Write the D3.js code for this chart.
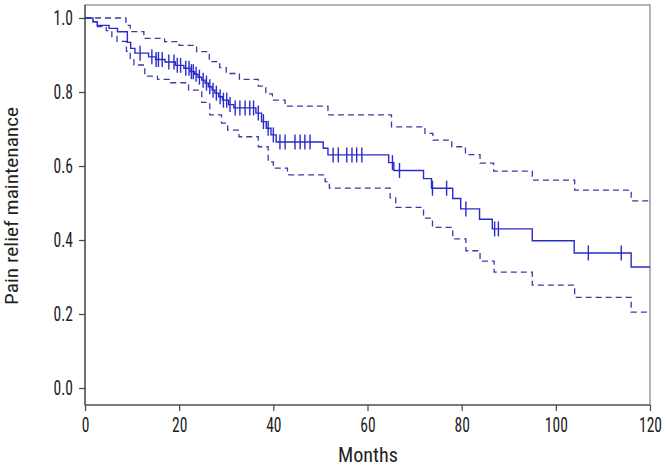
<!DOCTYPE html>
<html><head><meta charset="utf-8">
<script src="https://cdn.jsdelivr.net/npm/d3@7"></script>
<style>
html,body{margin:0;padding:0;background:#fff;}
text{font-family:'Roboto Condensed','Liberation Sans Narrow',Roboto,sans-serif;}
</style></head>
<body><svg id="c" width="667" height="468"></svg>
<script>
// Kaplan-Meier estimate: [time (months), survival after step]
const kmSteps = [[0,1.0],[1.7,0.99],[2.6,0.98],[5.1,0.972],[6.9,0.963],[9.0,0.934],[9.7,0.918],[10.6,0.905],
 [13.5,0.895],[15.0,0.888],[17.0,0.881],[19.2,0.872],[21.0,0.864],[22.3,0.855],[23.3,0.848],[24.0,0.840],
 [24.8,0.832],[25.5,0.824],[26.2,0.814],[27.0,0.805],[27.6,0.797],[28.4,0.787],[29.2,0.778],[30.5,0.766],
 [31.6,0.757],[36.3,0.743],[37.5,0.720],[38.5,0.702],[39.5,0.684],[40.6,0.665],[50.6,0.648],[51.6,0.630],
 [64.5,0.609],[65.6,0.588],[71.9,0.566],[73.6,0.540],[78.1,0.512],[79.8,0.484],[83.8,0.456],[86.5,0.430],
 [95.0,0.398],[103.9,0.365],[116.0,0.327]];
// Upper confidence limit
const upperSteps = [[0,1.0],[8.7,0.98],[9.6,0.963],[12.5,0.945],[16.9,0.936],[20.0,0.926],[23.7,0.909],
 [26.4,0.882],[28.6,0.866],[30.0,0.85],[32.8,0.834],[36.8,0.816],[38.4,0.795],[39.8,0.778],[42.5,0.762],
 [51.6,0.738],[65.1,0.706],[72.2,0.688],[73.9,0.67],[77.9,0.652],[80.8,0.631],[83.9,0.608],[86.8,0.586],
 [95.0,0.562],[104.0,0.535],[116.0,0.506]];
// Lower confidence limit
const lowerSteps = [[0,1.0],[1.7,0.99],[2.6,0.977],[4.5,0.966],[5.7,0.95],[6.8,0.937],[8.8,0.91],[9.6,0.89],
 [10.4,0.873],[12.7,0.843],[15.4,0.834],[17.9,0.825],[22.0,0.805],[24.8,0.772],[26.5,0.738],[29.0,0.716],
 [30.3,0.697],[32.7,0.679],[36.8,0.652],[38.9,0.611],[40.0,0.594],[43.0,0.576],[51.0,0.558],[51.9,0.54],
 [64.8,0.514],[66.0,0.488],[71.9,0.459],[73.8,0.434],[78.1,0.403],[80.9,0.371],[83.9,0.343],[86.9,0.313],
 [95.0,0.278],[104.0,0.245],[116.0,0.205]];
// Censored observations (months)
const censorTimes = [11.7,14.2,15.1,15.6,16.4,17.8,18.9,19.6,20.3,21.4,22.1,22.6,23.0,23.6,24.3,25.1,25.8,
 26.5,27.2,27.9,28.7,29.4,30.1,30.8,31.9,32.9,34.0,35.0,35.8,36.8,37.9,38.9,40.0,41.4,42.5,44.6,45.7,46.7,
 47.8,52.7,53.8,55.6,56.7,57.7,58.8,65.3,66.8,73.8,76.8,80.9,87.0,87.8,106.9,113.9];
const xTicks = [0,20,40,60,80,100,120];
const yTicks = [0.0,0.2,0.4,0.6,0.8,1.0];
const tEnd = 120;

const svg = d3.select('#c');
const x = d3.scaleLinear().domain([0,120]).range([85,650]);
const y = d3.scaleLinear().domain([0,1]).range([388,18]);
const plotTop = 5, plotBottom = 405;
const sx = 0.74; // horizontal condensing of the condensed typeface

// frame
svg.append('rect').attr('x',85).attr('y',plotTop).attr('width',565).attr('height',plotBottom-plotTop)
  .attr('fill','none').attr('stroke','#808080').attr('stroke-width',1.2);

const line = d3.line().x(d=>x(d[0])).y(d=>y(d[1])).curve(d3.curveStepAfter);
const ext = a => a.concat([[tEnd, a[a.length-1][1]]]);

svg.append('path').datum(ext(upperSteps)).attr('d',line).attr('fill','none')
  .attr('stroke','#3a3aa6').attr('stroke-width',1.3).attr('stroke-dasharray','6,4');
svg.append('path').datum(ext(lowerSteps)).attr('d',line).attr('fill','none')
  .attr('stroke','#3a3aa6').attr('stroke-width',1.3).attr('stroke-dasharray','6,4');
svg.append('path').datum(ext(kmSteps)).attr('d',line).attr('fill','none')
  .attr('stroke','#2a2acc').attr('stroke-width',1.4);

function kmAt(t){ let s=1; for(const d of kmSteps){ if(d[0]<=t) s=d[1]; } return s; }
svg.append('g').selectAll('line').data(censorTimes).join('line')
  .attr('x1',d=>x(d)).attr('x2',d=>x(d))
  .attr('y1',d=>y(kmAt(d))-7.5).attr('y2',d=>y(kmAt(d))+7.5)
  .attr('stroke','#2a2acc').attr('stroke-width',1.4);

// axes
const xAxis = d3.axisBottom(x).tickValues(xTicks).tickFormat(d3.format('d')).tickSizeOuter(0).tickSize(6).tickPadding(6);
const gx = svg.append('g').attr('transform',`translate(0,${plotBottom})`).call(xAxis);
const yAxis = d3.axisLeft(y).tickValues(yTicks).tickFormat(d3.format('.1f')).tickSizeOuter(0).tickSize(6).tickPadding(6);
const gy = svg.append('g').attr('transform','translate(85,0)').call(yAxis);
gy.select('.domain').attr('d',`M0,${plotTop}V${plotBottom}`);
gx.select('.domain').attr('d',`M85,0H650`);
[gx,gy].forEach(g=>{
  g.selectAll('.domain').attr('stroke','#444').attr('stroke-width',1.2);
  g.selectAll('.tick line').attr('stroke','#444').attr('stroke-width',1.2);
  g.selectAll('text').attr('fill','#222').style('font-size','21px').attr('font-family',null);
});
gx.selectAll('.tick text').attr('transform',`scale(${sx},1)`);
gy.selectAll('.tick text').attr('x',-12/sx).attr('transform',`scale(${sx},1)`);

svg.append('text').attr('x',368).attr('y',462).attr('text-anchor','middle')
  .attr('fill','#222').style('font-size','20px')
  .attr('textLength',60).attr('lengthAdjust','spacingAndGlyphs').text('Months');
svg.append('text').attr('transform','translate(18,206) rotate(-90)').attr('text-anchor','middle')
  .attr('fill','#222').style('font-size','19px')
  .attr('textLength',198).attr('lengthAdjust','spacingAndGlyphs').text('Pain relief maintenance');
</script></body></html>
